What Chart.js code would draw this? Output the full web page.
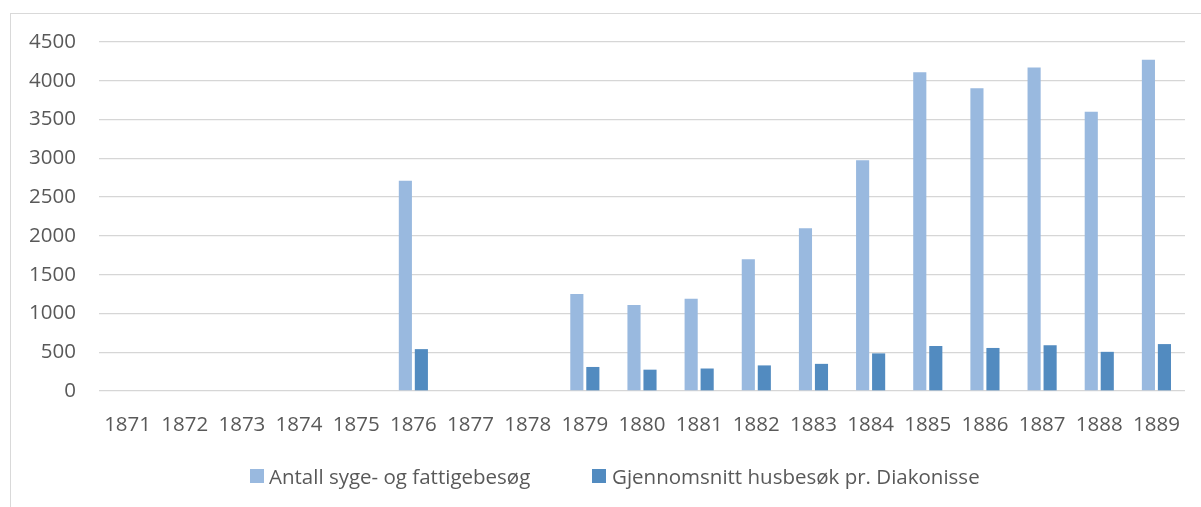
<!DOCTYPE html>
<html>
<head>
<meta charset="utf-8">
<script src="https://cdn.jsdelivr.net/npm/chart.js@4"></script>
<style>
  html, body { margin: 0; padding: 0; background: #fff; }
  #wrap { position: relative; width: 1201px; height: 507px; overflow: hidden; }
  #frame { position: absolute; left: 10px; top: 13px; width: 1400px; height: 600px;
           border-top: 1px solid #d9d9d9; border-left: 1px solid #d9d9d9; }
  canvas { position: absolute; left: 0; top: 0; }
  .leg { position: absolute; top: 462px; font: 20.5px "Open Sans", sans-serif; color: #595959;
         white-space: nowrap; line-height: 28px; }
  .leg i { position: absolute; left: 0; top: 7px; width: 14px; height: 14px; }
  .leg span { position: absolute; top: 0; }
</style>
</head>
<body>
<div id="wrap">
  <div id="frame"></div>
  <canvas id="myChart" width="1201" height="507"></canvas>
  <div class="leg" style="left:250px"><i style="background:#99b9df"></i><span style="left:19px">Antall syge- og fattigebesøg</span></div>
  <div class="leg" style="left:592px"><i style="background:#528bc0"></i><span style="left:20px">Gjennomsnitt husbesøk pr. Diakonisse</span></div>
</div>
<script>
// years on the x axis
const years = ["1871","1872","1873","1874","1875","1876","1877","1878","1879","1880",
               "1881","1882","1883","1884","1885","1886","1887","1888","1889"];
// sick and poor visits
const visits = [null,null,null,null,null,2710,null,null,1250,1110,
                1190,1700,2100,2975,4110,3905,4170,3600,4270];
// average house visits per deaconess
const avgVisits = [null,null,null,null,null,540,null,null,310,275,
                   290,330,350,485,580,555,590,505,605];

const labelColor = "#595959";
const gridColor = "#d6d6d6";

let data = {
  labels: years,
  datasets: [
    {
      label: "Antall syge- og fattigebesøg",
      backgroundColor: "#99b9df",
      data: visits,
      categoryPercentage: 0.56,
      barPercentage: 0.82,
    },
    {
      label: "Gjennomsnitt husbesøk pr. Diakonisse",
      backgroundColor: "#528bc0",
      data: avgVisits,
      categoryPercentage: 0.56,
      barPercentage: 0.82,
    },
  ],
};

let config = {
  type: "bar",
  data: data,
  options: {
    responsive: false,
    animation: false,
    layout: { padding: { left: 0, right: 16, top: 42, bottom: 0 } },
    plugins: {
      legend: { display: false },
      tooltip: { enabled: false },
    },
    scales: {
      x: {
        grid: { display: false },
        border: { display: false },
        ticks: {
          color: labelColor,
          padding: 14,
          maxRotation: 0,
          autoSkip: false,
          font: { family: "Open Sans", size: 20.5 },
        },
        afterFit: function (scale) {
          scale.height = 116;
        },
      },
      y: {
        min: 0,
        max: 4500,
        grid: { color: gridColor, lineWidth: 1.3, drawTicks: false },
        border: { display: false },
        ticks: {
          stepSize: 500,
          color: labelColor,
          padding: 23,
          font: { family: "Open Sans", size: 20.5 },
          callback: function (value) {
            return String(value);
          },
        },
        afterFit: function (scale) {
          scale.width = 99;
        },
      },
    },
  },
};

const mChart = new Chart(document.getElementById("myChart"), config);
</script>
</body>
</html>
